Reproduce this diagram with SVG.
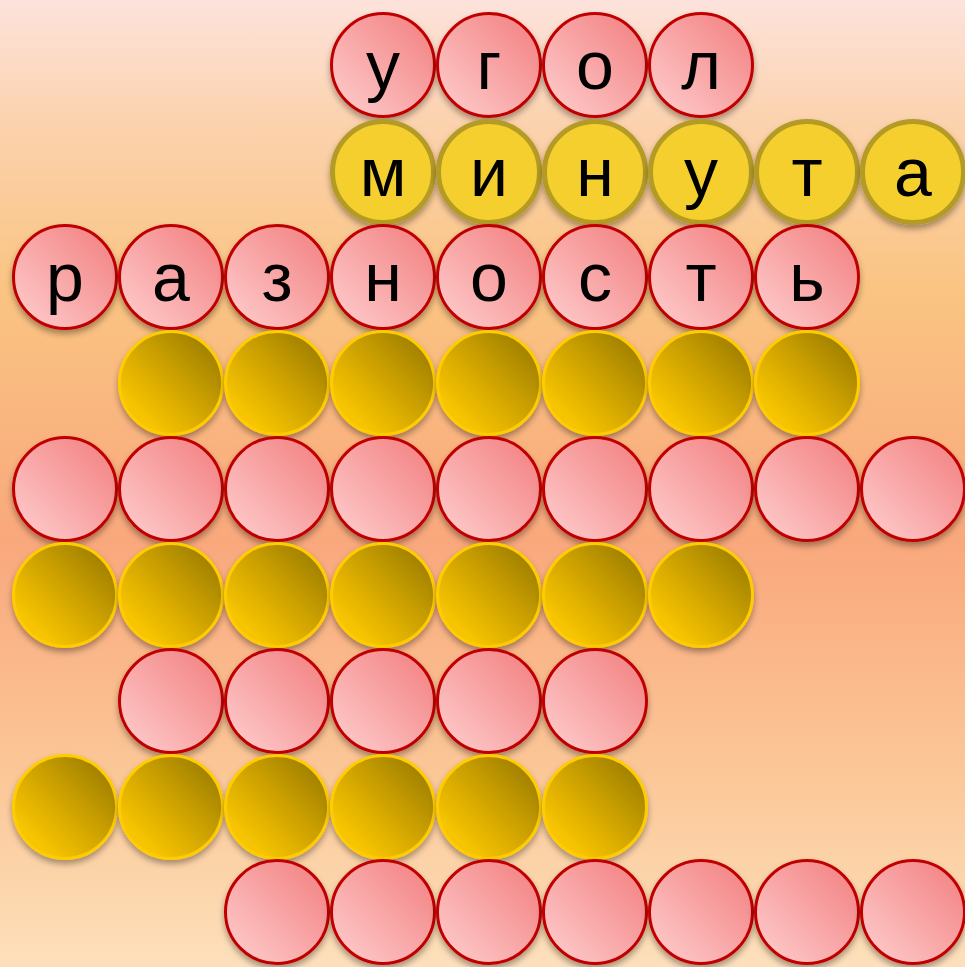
<svg xmlns="http://www.w3.org/2000/svg" width="965" height="967" viewBox="0 0 965 967">
<defs>
<linearGradient id="bg" x1="0" y1="0" x2="0" y2="1">
<stop offset="0" stop-color="#fde3dc"/>
<stop offset="0.12" stop-color="#fcd3b0"/>
<stop offset="0.3" stop-color="#fac482"/>
<stop offset="0.56" stop-color="#f9a87c"/>
<stop offset="0.8" stop-color="#fbc797"/>
<stop offset="1" stop-color="#fde0bb"/>
</linearGradient>
<linearGradient id="pink" x1="0.15" y1="0.85" x2="0.85" y2="0.15">
<stop offset="0" stop-color="#fdc3c3"/>
<stop offset="1" stop-color="#f4898a"/>
</linearGradient>
<linearGradient id="gold" x1="0.2" y1="0.8" x2="0.85" y2="0.15">
<stop offset="0" stop-color="#f6c400"/>
<stop offset="0.4" stop-color="#d8aa00"/>
<stop offset="1" stop-color="#a38200"/>
</linearGradient>
<filter id="sh" x="-20%" y="-20%" width="140%" height="150%">
<feDropShadow dx="0" dy="4" stdDeviation="3" flood-color="#000" flood-opacity="0.35"/>
</filter>
</defs>
<style>
.p{fill:url(#pink);stroke:#c00000;stroke-width:3;filter:url(#sh)}
.g{fill:url(#gold);stroke:#ffcc00;stroke-width:3;filter:url(#sh)}
.y{fill:#f5cf2d;stroke:#b49b28;stroke-width:5;filter:url(#sh)}
text{font-family:"Liberation Sans",Arial,sans-serif;font-size:68px;fill:#000;text-anchor:middle}
</style>
<rect width="965" height="967" fill="url(#bg)"/>
<g id="row1">
<g id="r1c4"><circle class="p" cx="383" cy="65" r="51.5"/><text x="383" y="89">у</text></g>
<g id="r1c5"><circle class="p" cx="489" cy="65" r="51.5"/><text x="489" y="89">г</text></g>
<g id="r1c6"><circle class="p" cx="595" cy="65" r="51.5"/><text x="595" y="89">о</text></g>
<g id="r1c7"><circle class="p" cx="701" cy="65" r="51.5"/><text x="701" y="89">л</text></g>
</g>
<g id="row2">
<g id="r2c4"><circle class="y" cx="383" cy="172" r="50.5"/><text x="383" y="196">м</text></g>
<g id="r2c5"><circle class="y" cx="489" cy="172" r="50.5"/><text x="489" y="196">и</text></g>
<g id="r2c6"><circle class="y" cx="595" cy="172" r="50.5"/><text x="595" y="196">н</text></g>
<g id="r2c7"><circle class="y" cx="701" cy="172" r="50.5"/><text x="701" y="196">у</text></g>
<g id="r2c8"><circle class="y" cx="807" cy="172" r="50.5"/><text x="807" y="196">т</text></g>
<g id="r2c9"><circle class="y" cx="913" cy="172" r="50.5"/><text x="913" y="196">а</text></g>
</g>
<g id="row3">
<g id="r3c1"><circle class="p" cx="65" cy="277" r="51.5"/><text x="65" y="301">р</text></g>
<g id="r3c2"><circle class="p" cx="171" cy="277" r="51.5"/><text x="171" y="301">а</text></g>
<g id="r3c3"><circle class="p" cx="277" cy="277" r="51.5"/><text x="277" y="301">з</text></g>
<g id="r3c4"><circle class="p" cx="383" cy="277" r="51.5"/><text x="383" y="301">н</text></g>
<g id="r3c5"><circle class="p" cx="489" cy="277" r="51.5"/><text x="489" y="301">о</text></g>
<g id="r3c6"><circle class="p" cx="595" cy="277" r="51.5"/><text x="595" y="301">с</text></g>
<g id="r3c7"><circle class="p" cx="701" cy="277" r="51.5"/><text x="701" y="301">т</text></g>
<g id="r3c8"><circle class="p" cx="807" cy="277" r="51.5"/><text x="807" y="301">ь</text></g>
</g>
<g id="row4">
<circle id="r4c2" class="g" cx="171" cy="383" r="51.5"/>
<circle id="r4c3" class="g" cx="277" cy="383" r="51.5"/>
<circle id="r4c4" class="g" cx="383" cy="383" r="51.5"/>
<circle id="r4c5" class="g" cx="489" cy="383" r="51.5"/>
<circle id="r4c6" class="g" cx="595" cy="383" r="51.5"/>
<circle id="r4c7" class="g" cx="701" cy="383" r="51.5"/>
<circle id="r4c8" class="g" cx="807" cy="383" r="51.5"/>
</g>
<g id="row5">
<circle id="r5c1" class="p" cx="65" cy="489" r="51.5"/>
<circle id="r5c2" class="p" cx="171" cy="489" r="51.5"/>
<circle id="r5c3" class="p" cx="277" cy="489" r="51.5"/>
<circle id="r5c4" class="p" cx="383" cy="489" r="51.5"/>
<circle id="r5c5" class="p" cx="489" cy="489" r="51.5"/>
<circle id="r5c6" class="p" cx="595" cy="489" r="51.5"/>
<circle id="r5c7" class="p" cx="701" cy="489" r="51.5"/>
<circle id="r5c8" class="p" cx="807" cy="489" r="51.5"/>
<circle id="r5c9" class="p" cx="913" cy="489" r="51.5"/>
</g>
<g id="row6">
<circle id="r6c1" class="g" cx="65" cy="595" r="51.5"/>
<circle id="r6c2" class="g" cx="171" cy="595" r="51.5"/>
<circle id="r6c3" class="g" cx="277" cy="595" r="51.5"/>
<circle id="r6c4" class="g" cx="383" cy="595" r="51.5"/>
<circle id="r6c5" class="g" cx="489" cy="595" r="51.5"/>
<circle id="r6c6" class="g" cx="595" cy="595" r="51.5"/>
<circle id="r6c7" class="g" cx="701" cy="595" r="51.5"/>
</g>
<g id="row7">
<circle id="r7c2" class="p" cx="171" cy="701" r="51.5"/>
<circle id="r7c3" class="p" cx="277" cy="701" r="51.5"/>
<circle id="r7c4" class="p" cx="383" cy="701" r="51.5"/>
<circle id="r7c5" class="p" cx="489" cy="701" r="51.5"/>
<circle id="r7c6" class="p" cx="595" cy="701" r="51.5"/>
</g>
<g id="row8">
<circle id="r8c1" class="g" cx="65" cy="807" r="51.5"/>
<circle id="r8c2" class="g" cx="171" cy="807" r="51.5"/>
<circle id="r8c3" class="g" cx="277" cy="807" r="51.5"/>
<circle id="r8c4" class="g" cx="383" cy="807" r="51.5"/>
<circle id="r8c5" class="g" cx="489" cy="807" r="51.5"/>
<circle id="r8c6" class="g" cx="595" cy="807" r="51.5"/>
</g>
<g id="row9">
<circle id="r9c3" class="p" cx="277" cy="912" r="51.5"/>
<circle id="r9c4" class="p" cx="383" cy="912" r="51.5"/>
<circle id="r9c5" class="p" cx="489" cy="912" r="51.5"/>
<circle id="r9c6" class="p" cx="595" cy="912" r="51.5"/>
<circle id="r9c7" class="p" cx="701" cy="912" r="51.5"/>
<circle id="r9c8" class="p" cx="807" cy="912" r="51.5"/>
<circle id="r9c9" class="p" cx="913" cy="912" r="51.5"/>
</g>
<g id="connectors"/>
</svg>
